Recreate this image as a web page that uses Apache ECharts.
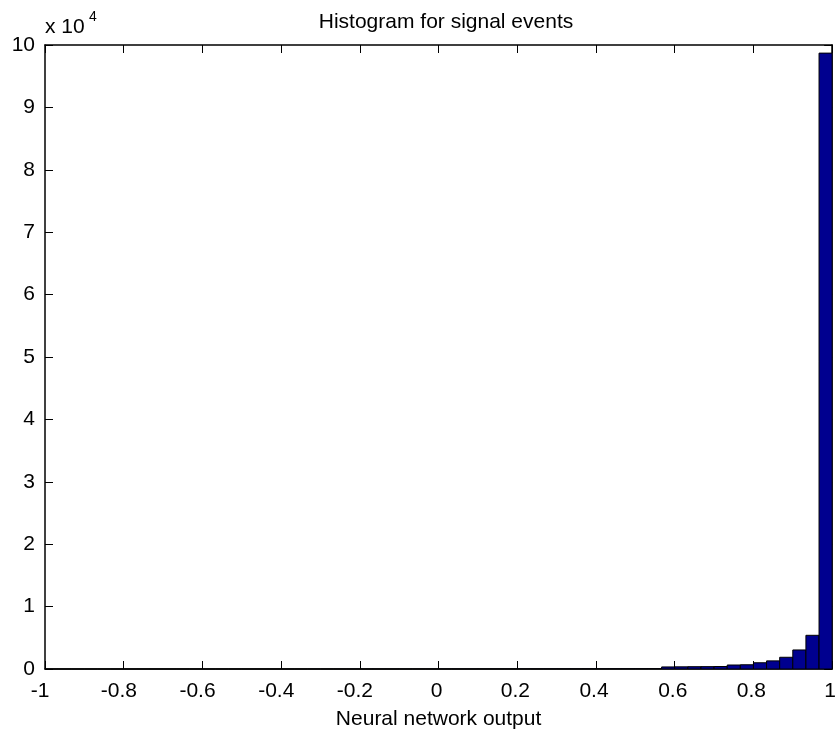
<!DOCTYPE html>
<html>
<head>
<meta charset="utf-8">
<script src="https://cdn.jsdelivr.net/npm/echarts@6/dist/echarts.min.js"></script>
<style>
html,body{margin:0;padding:0;background:#fff;}
#chart{width:839px;height:736px;}
</style>
</head>
<body>
<div id="chart"></div>
<script>
// Histogram: 60 bins of width 1/30 over [-1, 1]
var binStart = -1;
var binWidth = 1 / 30;
var counts = [
  2, 2, 2, 2, 2, 2, 2, 3, 3, 3,
  3, 3, 3, 4, 4, 4, 4, 5, 5, 5,
  6, 6, 7, 7, 8, 8, 9, 10, 11, 12,
  13, 14, 15, 16, 18, 20, 22, 24, 26, 28,
  30, 34, 38, 42, 48, 55, 62, 330, 350, 370,
  380, 400, 640, 680, 1000, 1300, 1880, 3050, 5400, 98700
];
var xTicks = [-1, -0.8, -0.6, -0.4, -0.2, 0, 0.2, 0.4, 0.6, 0.8, 1];
var yTicks = [0, 1, 2, 3, 4, 5, 6, 7, 8, 9, 10];
var yScale = 10000;
var titleText = 'Histogram for signal events';
var xLabelText = 'Neural network output';
var expBase = 'x 10';
var expPower = '4';

var bins = counts.map(function (c, i) {
  return [binStart + i * binWidth, binStart + (i + 1) * binWidth, c];
});

var font = 'Arial, "Liberation Sans", Helvetica, sans-serif';
var fs = 21;
var chart = echarts.init(document.getElementById('chart'));
function axisBase(extra) {
  var a = {
    type: 'value',
    axisLine: { show: true, onZero: false, lineStyle: { color: '#000', width: 1.5 } },
    axisTick: { show: true, inside: true, length: 8, lineStyle: { color: '#000', width: 1 } },
    splitLine: { show: false }
  };
  return Object.assign(a, extra);
}
chart.setOption({
  animation: false,
  backgroundColor: '#fff',
  title: {
    text: titleText,
    left: 441, top: 7, textAlign: 'center',
    textStyle: { fontFamily: font, fontSize: fs, fontWeight: 'normal', color: '#000' }
  },
  graphic: [
    { type: 'text', left: 45, top: 17, style: { text: expBase, fontFamily: font, fontSize: fs, fill: '#000' } },
    { type: 'text', left: 89, top: 10, style: { text: expPower, fontFamily: font, fontSize: 14, fill: '#000' } }
  ],
  grid: { left: 45, right: 2, top: 45, bottom: 67, containLabel: false },
  xAxis: [
    axisBase({
      min: -1, max: 1, interval: 0.2, position: 'bottom',
      name: xLabelText, nameLocation: 'middle', nameGap: 40,
      nameTextStyle: { fontFamily: font, fontSize: fs, color: '#000' },
      axisLabel: {
        fontFamily: font, fontSize: fs, color: '#000', margin: 12, padding: [0, 4, 0, 0],
        showMinLabel: true, showMaxLabel: true,
        formatter: function (v) {
          var r = Math.round(v * 10) / 10;
          if (xTicks.indexOf(r) < 0) return '';
          return r < 0 ? String(r) + ' ' : String(r);
        }
      }
    }),
    axisBase({
      min: -1, max: 1, interval: 0.2, position: 'top',
      axisLabel: { show: false }
    })
  ],
  yAxis: [
    axisBase({
      min: 0, max: 100000, interval: 10000, position: 'left',
      axisLabel: {
        fontFamily: font, fontSize: fs, color: '#000', margin: 10,
        formatter: function (v) {
          var r = Math.round(v / yScale);
          return yTicks.indexOf(r) >= 0 ? String(r) : '';
        }
      }
    }),
    axisBase({
      min: 0, max: 100000, interval: 10000, position: 'right',
      axisLabel: { show: false }
    })
  ],
  series: [{
    type: 'custom',
    xAxisIndex: 0, yAxisIndex: 0,
    data: bins,
    encode: { x: [0, 1], y: 2 },
    renderItem: function (params, api) {
      var p0 = api.coord([api.value(0), api.value(2)]);
      var p1 = api.coord([api.value(1), 0]);
      return {
        type: 'rect',
        shape: { x: p0[0], y: p0[1], width: p1[0] - p0[0], height: p1[1] - p0[1] },
        style: { fill: '#00008F', stroke: '#000', lineWidth: 1 }
      };
    }
  }]
});
</script>
</body>
</html>
